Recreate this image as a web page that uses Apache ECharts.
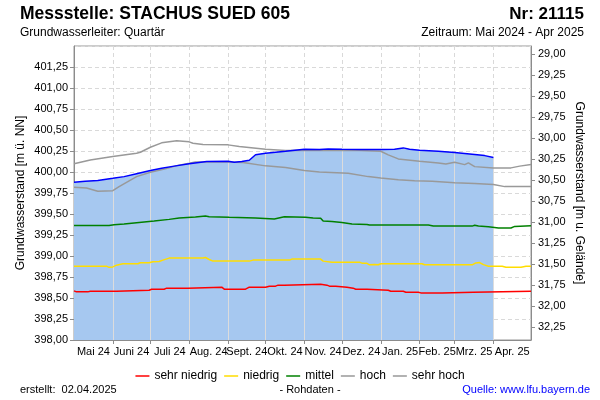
<!DOCTYPE html>
<html><head><meta charset="utf-8">
<script src="https://cdn.jsdelivr.net/npm/echarts@6/dist/echarts.min.js"></script>
<style>html,body{margin:0;padding:0;background:#fff}#c{width:600px;height:400px}</style>
</head><body><div id="c"></div>
<script>
// ---------- data ----------
const monthLabels = ['Mai 24','Juni 24','Juli 24','Aug. 24','Sept. 24','Okt. 24','Nov. 24','Dez. 24','Jan. 25','Feb. 25','Mrz. 25','Apr. 25'];
const rightTicks = [29.00,29.25,29.50,29.75,30.00,30.25,30.50,30.75,31.00,31.25,31.50,31.75,32.00,32.25];
const gelaendeHoehe = 430.40; // m ü. NN

const gemessen = [
 ['2024-05-01',399.877],['2024-05-10',399.89],['2024-05-20',399.90],['2024-06-01',399.925],
 ['2024-06-10',399.945],['2024-06-20',399.98],['2024-07-01',400.017],['2024-07-10',400.045],
 ['2024-07-20',400.07],['2024-08-01',400.097],['2024-08-15',400.124],['2024-09-01',400.128],
 ['2024-09-06',400.115],['2024-09-12',400.125],['2024-09-18',400.14],['2024-09-23',400.205],
 ['2024-10-01',400.223],['2024-10-17',400.247],['2024-11-01',400.271],['2024-11-13',400.267],
 ['2024-11-20',400.275],['2024-12-01',400.271],['2024-12-15',400.268],['2025-01-01',400.267],
 ['2025-01-12',400.27],['2025-01-19',400.287],['2025-01-24',400.27],['2025-02-01',400.259],
 ['2025-02-16',400.247],['2025-03-01',400.231],['2025-03-17',400.208],['2025-03-25',400.195],
 ['2025-04-01',400.172]
];
const sehrHoch = [
 ['2024-05-01',400.097],['2024-05-14',400.144],['2024-06-01',400.184],['2024-06-20',400.223],
 ['2024-06-23',400.235],['2024-07-01',400.295],['2024-07-10',400.347],['2024-07-22',400.371],
 ['2024-08-01',400.359],['2024-08-04',400.343],['2024-08-12',400.327],['2024-09-01',400.323],
 ['2024-09-10',400.303],['2024-10-01',400.271],['2024-10-17',400.255],['2024-11-01',400.258],
 ['2024-12-15',400.255],['2025-01-01',400.247],['2025-01-07',400.204],['2025-01-15',400.156],
 ['2025-02-01',400.128],['2025-02-16',400.108],['2025-02-22',400.095],['2025-03-01',400.116],
 ['2025-03-09',400.088],['2025-03-12',400.108],['2025-03-17',400.064],['2025-04-01',400.049],
 ['2025-04-15',400.049],['2025-04-22',400.07],['2025-05-01',400.088]
];
const hoch = [
 ['2024-05-01',399.817],['2024-05-11',399.81],['2024-05-20',399.77],['2024-06-01',399.778],
 ['2024-06-06',399.826],['2024-06-20',399.945],['2024-07-01',399.997],['2024-07-13',400.037],
 ['2024-07-22',400.076],['2024-08-01',400.104],['2024-08-06',400.12],['2024-09-01',400.12],
 ['2024-09-13',400.112],['2024-10-01',400.073],['2024-10-17',400.053],['2024-11-01',400.017],
 ['2024-11-13',400.0],['2024-12-06',399.985],['2024-12-22',399.945],['2025-01-01',399.929],
 ['2025-01-15',399.909],['2025-01-28',399.897],['2025-02-11',399.889],['2025-03-01',399.873],
 ['2025-03-17',399.862],['2025-04-01',399.85],['2025-04-10',399.826],['2025-05-01',399.826]
];
const mittel = [
 ['2024-05-01',399.364],['2024-05-29',399.364],['2024-06-02',399.372],['2024-06-10',399.38],
 ['2024-06-18',399.392],['2024-06-26',399.404],['2024-07-04',399.416],['2024-07-16',399.436],
 ['2024-07-24',399.452],['2024-08-06',399.464],['2024-08-14',399.476],['2024-08-17',399.468],
 ['2024-09-02',399.46],['2024-09-23',399.452],['2024-10-08',399.44],['2024-10-16',399.468],
 ['2024-11-02',399.46],['2024-11-08',399.452],['2024-11-14',399.45],['2024-11-16',399.416],
 ['2024-11-23',399.41],['2024-12-01',399.40],['2024-12-09',399.38],['2024-12-21',399.376],
 ['2024-12-23',399.368],['2025-02-08',399.368],['2025-02-12',399.356],['2025-03-15',399.356],
 ['2025-03-17',399.366],['2025-03-20',399.356],['2025-03-28',399.348],['2025-04-05',399.333],
 ['2025-04-15',399.333],['2025-04-18',399.352],['2025-05-01',399.36]
];
const niedrig = [
 ['2024-05-01',398.879],['2024-05-27',398.879],['2024-05-29',398.865],['2024-06-01',398.87],
 ['2024-06-04',398.891],['2024-06-09',398.907],['2024-06-21',398.907],['2024-06-23',398.919],
 ['2024-06-30',398.919],['2024-07-03',398.931],['2024-07-08',398.935],['2024-07-11',398.951],
 ['2024-07-16',398.975],['2024-08-12',398.975],['2024-08-14',398.982],['2024-08-17',398.958],
 ['2024-08-20',398.939],['2024-09-18',398.939],['2024-09-21',398.951],['2024-10-20',398.951],
 ['2024-10-22',398.963],['2024-11-14',398.963],['2024-11-16',398.939],['2024-11-23',398.927],
 ['2024-12-15',398.927],['2024-12-17',398.915],['2024-12-21',398.913],['2024-12-23',398.895],
 ['2024-12-27',398.90],['2024-12-30',398.895],['2025-01-01',398.907],['2025-02-03',398.907],
 ['2025-02-05',398.895],['2025-03-15',398.895],['2025-03-18',398.918],['2025-03-21',398.922],
 ['2025-03-24',398.897],['2025-03-28',398.879],['2025-04-08',398.879],['2025-04-11',398.867],
 ['2025-04-23',398.867],['2025-04-27',398.879],['2025-05-01',398.879]
];
const sehrNiedrig = [
 ['2024-05-01',398.585],['2024-05-03',398.573],['2024-05-12',398.573],['2024-05-14',398.581],
 ['2024-06-04',398.581],['2024-06-05',398.593],['2024-06-30',398.593],['2024-07-02',398.605],
 ['2024-07-12',398.605],['2024-07-14',398.617],['2024-07-31',398.617],['2024-08-01',398.629],
 ['2024-08-27',398.629],['2024-08-29',398.605],['2024-09-15',398.605],['2024-09-18',398.629],
 ['2024-10-01',398.629],['2024-10-04',398.641],['2024-10-09',398.641],['2024-10-11',398.653],
 ['2024-10-16',398.653],['2024-10-17',398.665],['2024-11-14',398.665],['2024-11-15',398.653],
 ['2024-11-19',398.653],['2024-11-21',398.641],['2024-11-26',398.641],['2024-11-27',398.629],
 ['2024-12-05',398.629],['2024-12-06',398.617],['2024-12-10',398.617],['2024-12-12',398.605],
 ['2024-12-21',398.605],['2024-12-22',398.593],['2025-01-07',398.593],['2025-01-09',398.581],
 ['2025-01-19',398.581],['2025-01-21',398.569],['2025-01-31',398.569],['2025-02-02',398.561],
 ['2025-02-19',398.561],['2025-02-20',398.569],['2025-03-16',398.569],['2025-03-17',398.581],
 ['2025-05-01',398.581]
];

// ---------- helpers ----------
function ts(s){const p=s.split('-');return new Date(+p[0],+p[1]-1,+p[2]).getTime();}
function toXY(arr){return arr.map(d=>[ts(d[0]),d[1]]);}
const monthStarts=[];for(let i=0;i<=12;i++)monthStarts.push(new Date(2024,4+i,1).getTime());
const labelPos=monthStarts.slice(0,12).map((t,i)=>(t+monthStarts[i+1])/2);
const gemXY=toXY(gemessen);
function interp(arr,t){
  for(let i=1;i<arr.length;i++){if(t<=arr[i][0]){const a=arr[i-1],b=arr[i];return a[1]+(b[1]-a[1])*(t-a[0])/(b[0]-a[0]);}}
  return arr[arr.length-1][1];
}
const yMin=398, yMax=401.5;
const gemEnd=gemXY[gemXY.length-1][0];
const monthLines=monthStarts.slice(1,12).filter(t=>t<=gemEnd).map(t=>[{coord:[t,yMin]},{coord:[t,interp(gemXY,t)]}]);

const FONT='"Liberation Sans", Arial, Helvetica, sans-serif';
function txt(text,x,y,size,align,opts){
  opts=opts||{};
  return {type:'text',silent:true,style:{text:text,x:x,y:y,font:(opts.bold?'bold ':'')+size+'px '+FONT,
    fill:opts.color||'#000',align:align,textAlign:align,verticalAlign:'middle',textVerticalAlign:'middle'}};
}
const fmt=v=>v.toFixed(2).replace('.',',');

const chart=echarts.init(document.getElementById('c'),null,{renderer:'canvas'});
const lineSeries=(name,data,color)=>({name:name,type:'line',data:toXY(data),showSymbol:false,symbol:'none',
  z:10,lineStyle:{color:color,width:1.5},itemStyle:{color:color},silent:true});

chart.setOption({
  animation:false,
  textStyle:{fontFamily:FONT},
  grid:{left:74,right:69,top:46,bottom:60,show:true,borderColor:'#999',borderWidth:1,outerBoundsMode:'none',containLabel:false},
  legend:{data:['sehr niedrig','niedrig','mittel','hoch','sehr hoch'],left:'center',top:365,
    icon:'rect',itemWidth:14,itemHeight:1.5,itemGap:7,textStyle:{fontSize:12,color:'#000',fontFamily:FONT},selectedMode:false},
  xAxis:{type:'value',min:monthStarts[0],max:monthStarts[12],
    axisLine:{show:true,lineStyle:{color:'#8c8c8c'}},
    axisTick:{show:true,length:4,customValues:monthStarts.slice(1,12),lineStyle:{color:'#8c8c8c'}},
    axisLabel:{customValues:labelPos,fontSize:11,color:'#000',margin:6,fontFamily:FONT,
      formatter:function(v){for(let i=0;i<12;i++){if(v>=monthStarts[i]&&v<monthStarts[i+1])return monthLabels[i];}return '';}},
    splitLine:{show:true,lineStyle:{color:'#d9d9d9',type:[4,3],width:1}}
  },
  yAxis:[
    {type:'value',min:yMin,max:yMax,interval:0.25,position:'left',
     name:'Grundwasserstand [m ü. NN]',nameLocation:'middle',nameGap:47,nameMoveOverlap:false,
     nameTextStyle:{fontSize:12,color:'#000',fontFamily:FONT},
     axisLine:{show:true,lineStyle:{color:'#8c8c8c'}},
     axisTick:{show:true,length:4,lineStyle:{color:'#8c8c8c'}},
     axisLabel:{fontSize:11,color:'#000',margin:6,fontFamily:FONT,showMaxLabel:false,formatter:v=>v>=yMax-1e-9?'':fmt(v)},
     splitLine:{show:true,lineStyle:{color:'#d9d9d9',type:[4,3],width:1}}},
    {type:'value',inverse:true,min:gelaendeHoehe-yMax,max:gelaendeHoehe-yMin,position:'right',
     name:'Grundwasserstand [m u. Gelände]',nameLocation:'middle',nameGap:42,nameRotate:-90,nameMoveOverlap:false,
     nameTextStyle:{fontSize:12,color:'#000',fontFamily:FONT},
     axisLine:{show:true,lineStyle:{color:'#8c8c8c'}},
     axisTick:{show:true,length:4,customValues:rightTicks,lineStyle:{color:'#8c8c8c'}},
     axisLabel:{customValues:rightTicks,fontSize:11,color:'#000',margin:7,fontFamily:FONT,formatter:v=>fmt(v)},
     splitLine:{show:false}}
  ],
  series:[
    {name:'fill',type:'line',data:gemXY,showSymbol:false,symbol:'none',z:2,silent:true,
     lineStyle:{width:0,opacity:0},areaStyle:{color:'#a6c8f0',opacity:1,origin:'start'},
     markLine:{silent:true,symbol:['none','none'],label:{show:false},animation:false,
       lineStyle:{type:'solid',color:'#dcdcdc',width:1},data:monthLines}},
    lineSeries('sehr niedrig',sehrNiedrig,'#ff0000'),
    lineSeries('niedrig',niedrig,'#ffdd00'),
    lineSeries('mittel',mittel,'#008000'),
    lineSeries('hoch',hoch,'#999999'),
    lineSeries('sehr hoch',sehrHoch,'#999999'),
    {name:'gemessen',type:'line',data:gemXY,showSymbol:false,symbol:'none',z:12,silent:true,
     lineStyle:{color:'#0000ff',width:1.5}}
  ],
  graphic:[
    txt('Messstelle: STACHUS SUED 605',20,14,17.5,'left',{bold:true}),
    txt('Nr: 21115',584,14,17,'right',{bold:true}),
    txt('Grundwasserleiter: Quartär',20,33,12,'left'),
    txt('Zeitraum: Mai 2024 - Apr 2025',584,33,12,'right'),
    txt('erstellt:  02.04.2025',20,390,11,'left'),
    txt('- Rohdaten -',310,390,11,'center'),
    txt('Quelle: www.lfu.bayern.de',590,390,11,'right',{color:'#0000ff'})
  ]
});
</script></body></html>
